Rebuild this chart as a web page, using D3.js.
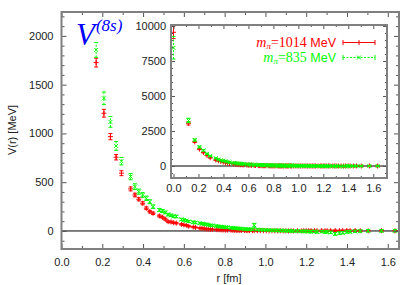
<!DOCTYPE html>
<html>
<head>
<meta charset="utf-8">
<script src="https://cdn.jsdelivr.net/npm/d3@7"></script>
<style>
  body { margin: 0; background: #fff; }
  svg { display: block; }
</style>
</head>
<body>
<div id="chart"></div>
<script>
// lattice distances (fm), shared by both pion masses
const rValues = [0.000, 0.120, 0.170, 0.208, 0.240, 0.268, 0.294, 0.339, 0.360, 0.379, 0.398,
  0.416, 0.433, 0.449, 0.480, 0.495, 0.509, 0.523, 0.537, 0.550, 0.563,
  0.588, 0.600, 0.612, 0.624, 0.646, 0.657, 0.679, 0.689, 0.700, 0.710,
  0.720, 0.730, 0.740, 0.759, 0.768, 0.778, 0.787, 0.796, 0.805, 0.814,
  0.831, 0.840, 0.849, 0.857, 0.865, 0.874, 0.882, 0.898, 0.906, 0.914,
  0.922, 0.937, 0.945, 0.960, 0.975, 0.990, 1.004, 1.018, 1.032, 1.046,
  1.060, 1.073, 1.087, 1.100, 1.113, 1.126, 1.138, 1.157, 1.176, 1.188,
  1.200, 1.212, 1.224, 1.241, 1.253, 1.276, 1.292, 1.303, 1.320, 1.342,
  1.363, 1.379, 1.399, 1.415, 1.440, 1.465, 1.504, 1.569, 1.635];

// m_pi = 1014 MeV
const v1014 = [9550, 3050, 1726, 1207, 967, 756, 592, 431, 369, 325, 284,
  233, 198, 181, 154, 140, 120, 95, 92, 85, 80,
  68, 62, 58, 48, 40, 36, 28, 27, 24, 20,
  19, 17, 16, 14, 13, 12, 11, 10, 9, 9,
  8, 7, 7, 6, 6, 5, 5, 4, 4, 3,
  4, 3, 3, 2, 3, 2, 2, 1, 2, 1,
  1, 2, 0, 1, 0, 1, 0, 2, 1, 3,
  2, 3, 4, 3, 2, 4, 3, 2, 3, 4,
  2, 3, 5, 3, 4, 2, 1, 3, 1];
const e1014 = [450, 120, 45, 40, 32, 28, 25, 20, 18, 16, 15,
  14, 13, 12, 11, 10, 10, 9, 9, 8, 8,
  8, 7, 7, 7, 7, 6, 6, 6, 6, 6,
  6, 5, 5, 5, 5, 5, 5, 5, 5, 5,
  5, 5, 5, 5, 5, 5, 5, 5, 5, 5,
  5, 5, 5, 5, 5, 5, 5, 5, 5, 5,
  5, 5, 5, 5, 5, 5, 5, 5, 6, 6,
  6, 6, 6, 6, 6, 6, 6, 6, 7, 7,
  7, 7, 7, 7, 8, 8, 8, 9, 9];

// m_pi = 835 MeV
const v835 = [8440, 3250, 1856, 1360, 1118, 872, 715, 557, 454, 403, 369,
  335, 300, 249, 215, 205, 190, 168, 160, 150, 148,
  118, 113, 105, 97, 90, 85, 80, 74, 70, 68,
  62, 58, 55, 51, 47, 44, 42, 40, 38, 36,
  33, 30, 29, 28, 26, 24, 22, 20, 19, 18,
  17, 15, 58, 14, 12, 11, 10, 8, 6, 7,
  5, 4, 3, 2, 1, 0, -2, -1, -3, -5,
  -4, -6, -8, -5, -10, -7, -12, -9, -15, -30,
  -22, -18, -10, -8, -4, -2, 2, 1, 2];
const e835 = [800, 160, 75, 65, 55, 45, 38, 32, 30, 26, 24,
  22, 20, 18, 16, 15, 14, 14, 13, 13, 12,
  12, 11, 11, 10, 10, 10, 9, 9, 9, 9,
  9, 8, 8, 8, 8, 8, 8, 8, 8, 8,
  8, 8, 8, 8, 8, 8, 8, 8, 8, 8,
  8, 8, 20, 9, 9, 9, 9, 9, 9, 9,
  9, 9, 9, 9, 9, 10, 10, 10, 10, 10,
  10, 10, 11, 11, 11, 11, 12, 12, 12, 14,
  13, 13, 12, 12, 12, 12, 12, 12, 12];

const xTicks = [0, 0.2, 0.4, 0.6, 0.8, 1.0, 1.2, 1.4, 1.6];
const mainYTicks = [0, 500, 1000, 1500, 2000];
const insetYTicks = [0, 2500, 5000, 7500, 10000];

const RED = '#ff0000';
const GREEN = '#00ff00';
const FRAME = '#808080';
const SANS = '"Liberation Sans", Arial, Helvetica, sans-serif';
const SERIF = '"Liberation Serif", "Times New Roman", serif';

const svg = d3.select('#chart')
  .append('svg')
  .attr('width', 407)
  .attr('height', 285);

const toPoints = (vals, errs) => rValues.map((r, i) => ({ r: r, v: vals[i], e: errs[i] }));
const red = toPoints(v1014, e1014);
const green = toPoints(v835, e835);

function plusPath(cx, cy) {
  return `M${cx - 2.5},${cy}h5M${cx},${cy - 2.5}v5`;
}
function crossPath(cx, cy) {
  return `M${cx - 2},${cy - 2}l4,4M${cx - 2},${cy + 2}l4,-4`;
}

function drawSeries(g, data, x, y, color, dash, marker) {
  const pts = g.selectAll(null)
    .data(data)
    .enter().append('g')
    .attr('stroke', color)
    .attr('fill', 'none')
    .attr('stroke-width', 1);
  pts.append('line')
    .attr('x1', d => x(d.r)).attr('x2', d => x(d.r))
    .attr('y1', d => y(d.v - d.e)).attr('y2', d => y(d.v + d.e))
    .attr('stroke-dasharray', dash);
  pts.append('path')
    .attr('d', d => `M${x(d.r) - 2},${y(d.v - d.e)}h4M${x(d.r) - 2},${y(d.v + d.e)}h4`);
  pts.append('path')
    .attr('d', d => marker(x(d.r), y(d.v)));
}

function styleAxis(ax, showText) {
  ax.select('.domain').remove();
  ax.selectAll('line').attr('stroke', '#555');
  ax.selectAll('text')
    .attr('fill', '#222')
    .style('font-family', SANS)
    .style('font-size', '11px');
  if (!showText) ax.selectAll('text').remove();
}

function drawPanel(id, x, y, yMajor, yMinor, xMinor, yFmt, padY, padX, majorLen) {
  const [x0, x1] = x.range();
  const [y0, y1] = y.range(); // y0 is the bottom
  const g = svg.append('g').attr('id', id);

  g.append('rect')
    .attr('x', x0).attr('y', y1)
    .attr('width', x1 - x0).attr('height', y0 - y1)
    .attr('fill', '#fff');

  g.append('clipPath').attr('id', id + '-clip')
    .append('rect')
    .attr('x', x0).attr('y', y1)
    .attr('width', x1 - x0).attr('height', y0 - y1);

  g.append('line')
    .attr('x1', x0).attr('x2', x1)
    .attr('y1', y(0)).attr('y2', y(0))
    .attr('stroke', '#000').attr('stroke-width', 1);

  const data = g.append('g').attr('clip-path', `url(#${id}-clip)`);
  drawSeries(data, red, x, y, RED, null, plusPath);
  drawSeries(data, green, x, y, GREEN, '2,1.5', crossPath);

  // major + minor ticks on all four sides, pointing inward
  const minorLen = majorLen - 2;
  const axes = [
    [d3.axisLeft(y).tickValues(yMajor).tickSize(-majorLen).tickPadding(padY).tickFormat(yFmt), `translate(${x0},0)`, true],
    [d3.axisLeft(y).tickValues(yMinor).tickSize(-minorLen).tickFormat(''), `translate(${x0},0)`, false],
    [d3.axisRight(y).tickValues(yMajor).tickSize(-majorLen), `translate(${x1},0)`, false],
    [d3.axisRight(y).tickValues(yMinor).tickSize(-minorLen), `translate(${x1},0)`, false],
    [d3.axisBottom(x).tickValues(xTicks).tickSize(-majorLen).tickPadding(padX).tickFormat(d3.format('.1f')), `translate(0,${y0})`, true],
    [d3.axisBottom(x).tickValues(xMinor).tickSize(-minorLen).tickFormat(''), `translate(0,${y0})`, false],
    [d3.axisTop(x).tickValues(xTicks).tickSize(-majorLen), `translate(0,${y1})`, false],
    [d3.axisTop(x).tickValues(xMinor).tickSize(-minorLen), `translate(0,${y1})`, false]
  ];
  axes.forEach(([axis, tr, showText]) => {
    const ax = g.append('g').attr('transform', tr).call(axis);
    styleAxis(ax, showText);
  });

  g.append('rect')
    .attr('x', x0).attr('y', y1)
    .attr('width', x1 - x0).attr('height', y0 - y1)
    .attr('fill', 'none')
    .attr('stroke', FRAME)
    .attr('stroke-width', 2);
  return g;
}

// main plot
const x = d3.scaleLinear().domain([0, 1.655]).range([61.5, 399]);
const y = d3.scaleLinear().domain([-185, 2245]).range([249, 12]);
const mainMinorY = d3.range(-100, 2250, 100).filter(v => v % 500 !== 0);
const minorX = d3.range(1, 17, 2).map(v => v / 10);
drawPanel('main', x, y, mainYTicks, mainMinorY, minorX, d3.format('d'), 8, 9, 5);

svg.append('text')
  .attr('transform', 'translate(16,130) rotate(-90)')
  .attr('text-anchor', 'middle')
  .style('font-family', SANS)
  .style('font-size', '11px')
  .attr('fill', '#222')
  .text('V(r) [MeV]');

svg.append('text')
  .attr('x', 229).attr('y', 282)
  .attr('text-anchor', 'middle')
  .style('font-family', SANS)
  .style('font-size', '11px')
  .attr('fill', '#222')
  .text('r [fm]');

const title = svg.append('text')
  .attr('x', 76).attr('y', 45)
  .attr('fill', '#0000ff')
  .style('font-family', SERIF)
  .style('font-style', 'italic');
title.append('tspan').style('font-size', '31px').text('V');
title.append('tspan').style('font-size', '17px').attr('dx', 1).attr('dy', -14).text('(8s)');

// inset
const xi = d3.scaleLinear().domain([-0.02, 1.71]).range([171, 387]);
const yi = d3.scaleLinear().domain([-857, 10071]).range([178, 25]);
const insetMinorY = d3.range(-500, 10001, 500).filter(v => v % 2500 !== 0);
drawPanel('inset', xi, yi, insetYTicks, insetMinorY, minorX, d3.format('d'), 5, 6, 4);

// legend
const legend = [
  { mass: '1014', color: RED, dash: null, marker: plusPath, y: 42.5 },
  { mass: '835', color: GREEN, dash: '2,1.5', marker: crossPath, y: 57.5 }
];
legend.forEach(l => {
  const t = svg.append('text')
    .attr('x', 336).attr('y', l.y + 4)
    .attr('text-anchor', 'end')
    .attr('fill', l.color);
  t.append('tspan').style('font-family', SERIF).style('font-style', 'italic').style('font-size', '14px').text('m');
  t.append('tspan').style('font-family', SERIF).style('font-style', 'italic').style('font-size', '9px').attr('dy', 2).text('π');
  t.append('tspan').style('font-family', SERIF).style('font-size', '14px').attr('dy', -2).text('=' + l.mass);
  t.append('tspan').style('font-family', SANS).style('font-size', '12.5px').text(' MeV');

  const s = svg.append('g').attr('stroke', l.color).attr('fill', 'none');
  s.append('line').attr('x1', 343).attr('x2', 375).attr('y1', l.y).attr('y2', l.y).attr('stroke-dasharray', l.dash);
  s.append('path').attr('d', `M343,${l.y - 2.5}v5M375,${l.y - 2.5}v5`);
  s.append('path').attr('d', l.marker(359, l.y));
});
</script>
</body>
</html>
